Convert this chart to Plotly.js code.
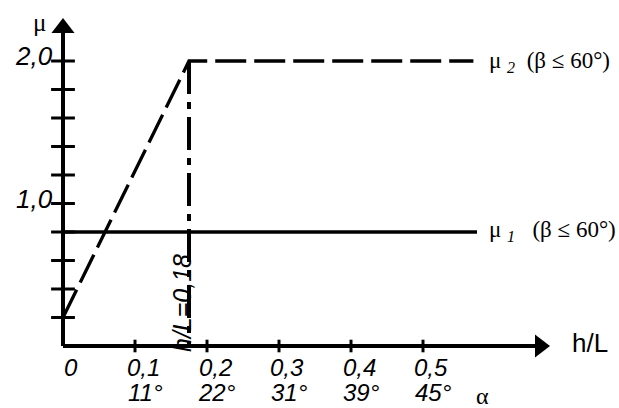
<!DOCTYPE html>
<html>
<head>
<meta charset="utf-8">
<script src="https://cdn.plot.ly/plotly-3.0.1.min.js"></script>
<style>
  html, body { margin: 0; padding: 0; background: #fff; }
  #chart { width: 619px; height: 408px; }
</style>
</head>
<body>
<div id="chart"></div>
<script>
// Friction coefficient mu vs. h/L (with slope angle alpha)

const hL        = [0, 0.1, 0.2, 0.3, 0.4, 0.5];
const hLText    = ["0", "0,1", "0,2", "0,3", "0,4", "0,5"];
const alphaText = ["", "11°", "22°", "31°", "39°", "45°"];
const muTickVals = [0.2, 0.4, 0.6, 0.8, 1.0, 1.2, 1.4, 1.6, 1.8, 2.0];
const muLabelVals = [1.0, 2.0];
const muLabelText = ["1,0", "2,0"];

// mu2: rises from 0.2 at h/L=0 to 2.0 at h/L=0.175, then constant
const mu2X = [0, 0.175, 0.57];
const mu2Y = [0.2, 2.0, 2.0];
// mu1: constant 0.8
const mu1X = [0, 0.575];
const mu1Y = [0.8, 0.8];
// critical h/L
const hLcrit = 0.175;

const SANS  = "Liberation Sans, Arial, sans-serif";
const SERIF = "Liberation Serif, Times New Roman, serif";
const INK   = "#000";

// pixel mapping: x=0 at 63px, 720 px per unit; y=0 at 346px, 142.5 px per unit
const PX_X = 720, PX_Y = 142.5;
const X_RANGE = [-63 / PX_X, 556 / PX_X];
const Y_RANGE = [-62 / PX_Y, 346 / PX_Y];

const traces = [
  // axes lines
  { x: [0, 0.66], y: [0, 0], mode: "lines", line: { color: INK, width: 4 }, hoverinfo: "skip" },
  { x: [0, 0], y: [0, 2.2], mode: "lines", line: { color: INK, width: 4 }, hoverinfo: "skip" },
  // arrow heads
  { x: [0.6625], y: [0], mode: "markers",
    marker: { symbol: "triangle-right", size: 20, color: INK, line: { width: 0 } }, hoverinfo: "skip" },
  { x: [0], y: [2.2316], mode: "markers",
    marker: { symbol: "triangle-up", size: 20, color: INK, line: { width: 0 } }, hoverinfo: "skip" },
  // crossing tick marks on mu axis
  { x: muTickVals.map(() => 0), y: muTickVals, mode: "markers",
    marker: { symbol: "line-ew", size: 17, line: { color: INK, width: 3 } }, hoverinfo: "skip" },
  // small tick marks on h/L axis
  { x: hL.slice(1), y: hL.slice(1).map(() => 0), mode: "markers",
    marker: { symbol: "line-ns", size: 9, line: { color: INK, width: 3 } }, hoverinfo: "skip" },
  // mu1 solid
  { x: mu1X, y: mu1Y, mode: "lines", name: "mu1", line: { color: INK, width: 3.5 } },
  // mu2 dashed
  { x: mu2X, y: mu2Y, mode: "lines", name: "mu2", line: { color: INK, width: 3.3, dash: "31px,8px" } },
  // h/L = 0.18 dash-dot
  { x: [hLcrit, hLcrit], y: [2.0, 0], mode: "lines", name: "crit",
    line: { color: INK, width: 4, dash: "33px,8px,7px,8px" } },
];

const tickFont = { family: SANS, size: 24, color: INK, style: "italic" };

// tick labels along h/L (two rows: h/L value and slope angle alpha)
const xLabels = [];
hL.forEach((v, i) => {
  xLabels.push({ x: v + 8 / PX_X, y: -21 / PX_Y, text: hLText[i], showarrow: false, font: tickFont });
  if (alphaText[i]) {
    xLabels.push({ x: v + 10 / PX_X, y: -46 / PX_Y, text: alphaText[i], showarrow: false, font: tickFont });
  }
});
// tick labels along mu
const yLabels = muLabelVals.map((v, i) => ({
  x: -8 / PX_X, y: v + 5 / PX_Y, xanchor: "right", text: muLabelText[i],
  showarrow: false, font: { ...tickFont, size: 26 },
}));

const annotations = [
  ...xLabels, ...yLabels,
  { x: -24 / PX_X, y: 324 / PX_Y, text: "μ", showarrow: false,
    font: { family: SERIF, size: 25, color: INK } },
  { x: 527 / PX_X, y: 3 / PX_Y, text: "h/L", showarrow: false,
    font: { family: SANS, size: 26, color: INK } },
  { x: 419 / PX_X, y: -50 / PX_Y, text: "α", showarrow: false,
    font: { family: SERIF, size: 24, color: INK } },
  { x: 424 / PX_X, y: 1.995, xanchor: "left", showarrow: false,
    text: "μ\u00a0<sub><i>2</i></sub>\u00a0\u00a0(β\u00a0≤\u00a060°)",
    font: { family: SERIF, size: 23, color: INK } },
  { x: 424 / PX_X, y: 0.805, xanchor: "left", showarrow: false,
    text: "μ\u00a0<sub><i>1</i></sub>\u00a0\u00a0\u00a0(β\u00a0≤\u00a060°)",
    font: { family: SERIF, size: 23, color: INK } },
  { x: 119 / PX_X, y: 43 / PX_Y, textangle: -90, showarrow: false,
    text: "h/L=0,18",
    font: { family: SANS, size: 25, color: INK, style: "italic" } },
];

const layout = {
  width: 619, height: 408,
  margin: { l: 0, r: 0, t: 0, b: 0 },
  paper_bgcolor: "#fff", plot_bgcolor: "#fff",
  showlegend: false,
  xaxis: { range: X_RANGE, visible: false },
  yaxis: { range: Y_RANGE, visible: false },
  annotations,
};

Plotly.newPlot("chart", traces, layout, { staticPlot: true, displayModeBar: false });
</script>
</body>
</html>
